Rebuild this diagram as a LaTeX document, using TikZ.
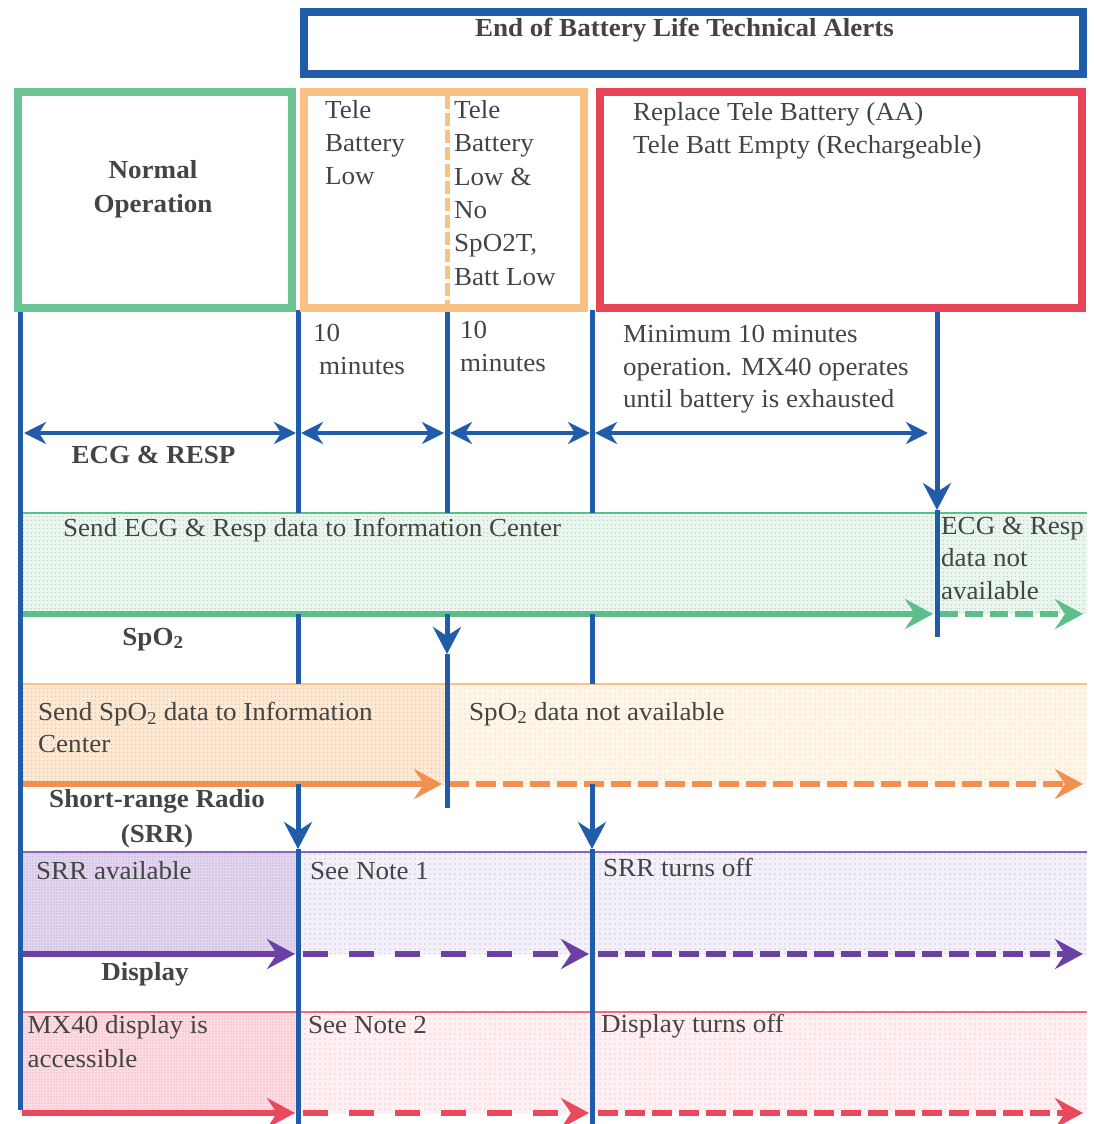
\documentclass[tikz,border=0pt]{standalone}
\usepackage{fontspec}
\setmainfont{Liberation Serif}[FakeStretch=1.04]
\usetikzlibrary{arrows.meta,patterns.meta}
\definecolor{cblue}{RGB}{32,92,170}
\definecolor{cgreenbox}{RGB}{108,196,150}
\definecolor{corangebox}{RGB}{250,192,132}
\definecolor{credbox}{RGB}{232,68,88}
\definecolor{cgreenarr}{RGB}{94,190,138}
\definecolor{corangearr}{RGB}{243,143,80}
\definecolor{cpurple}{RGB}{108,64,162}
\definecolor{cpinkarr}{RGB}{234,72,92}
\definecolor{ctext}{RGB}{68,68,68}
\definecolor{gfill}{RGB}{232,246,238}
\definecolor{ofillL}{RGB}{254,232,210}
\definecolor{ofillR}{RGB}{255,246,234}
\definecolor{pfillL}{RGB}{228,216,240}
\definecolor{pfillR}{RGB}{244,240,249}
\definecolor{rfillL}{RGB}{252,222,228}
\definecolor{rfillR}{RGB}{254,240,243}
\tikzset{
  bluehead/.tip={Stealth[length=27pt,width=28pt,inset=9pt]},
  dblhead/.tip={Stealth[length=22pt,width=22pt,inset=7pt]},
  bandhead/.tip={Stealth[length=28pt,width=30pt,inset=10pt]},
  txt/.style={text=ctext,font=\fontsize{26}{33.3}\selectfont,inner sep=0pt,align=left},
  btxt/.style={text=ctext,font=\fontsize{26}{34}\selectfont\bfseries,inner sep=0pt,align=center},
  framebox/.style={draw=#1,line width=8pt,fill=white,inner sep=0pt,minimum height=216pt},
  vline/.style={draw=cblue,line width=5pt},
  dblarrow/.style={draw=cblue,line width=4.5pt,dblhead-dblhead},
  bandarrow/.style={line width=6pt,-bandhead},
  dotsfine/.style={pattern={Dots[distance=4pt,radius=0.6pt]},pattern color=#1},
  bandedge/.style={line width=1.5pt,draw=#1},
}
\begin{document}
\begin{tikzpicture}[x=1pt,y=-1pt]
\useasboundingbox (0,0) rectangle (1093,1124);

% ---------- bands ----------
\fill[gfill] (20,513) rectangle (1087,614);
\fill[dotsfine=cgreenarr!75] (20,513) rectangle (1087,614);
\draw[bandedge=cgreenarr] (20,513) -- (1087,513);

\fill[ofillL] (20,684) rectangle (447,784);
\fill[dotsfine=corangearr!80] (20,684) rectangle (447,784);
\fill[ofillR] (447,684) rectangle (1087,784);
\fill[pattern={Dots[distance=5pt,radius=0.6pt]},pattern color=corangebox] (447,684) rectangle (1087,784);
\draw[bandedge=corangebox] (20,684) -- (1087,684);

\fill[pfillL] (20,852) rectangle (298,954);
\fill[pattern={Dots[distance=3pt,radius=0.6pt]},pattern color=cpurple!60] (20,852) rectangle (298,954);
\fill[pfillR] (298,852) rectangle (1087,954);
\fill[pattern={Dots[distance=5pt,radius=0.6pt]},pattern color=cpurple!55] (298,852) rectangle (1087,954);
\draw[bandedge=cpurple!80] (20,852) -- (1087,852);

\fill[rfillL] (20,1012) rectangle (298,1113);
\fill[pattern={Dots[distance=3pt,radius=0.6pt]},pattern color=cpinkarr!60] (20,1012) rectangle (298,1113);
\fill[rfillR] (298,1012) rectangle (1087,1113);
\fill[pattern={Dots[distance=5pt,radius=0.6pt]},pattern color=cpinkarr!55] (298,1012) rectangle (1087,1113);
\draw[bandedge=cpinkarr!80] (20,1012) -- (1087,1012);

% ---------- coordinates ----------
\coordinate (g0) at (22,614);   \coordinate (g1) at (933,614);
\coordinate (g2) at (940,614);  \coordinate (g3) at (1083,614);
\coordinate (o0) at (22,784);   \coordinate (o1) at (442,784);
\coordinate (o2) at (449,784);  \coordinate (o3) at (1083,784);
\coordinate (p0) at (22,954);   \coordinate (p1) at (295,954);
\coordinate (p2) at (303,954);  \coordinate (p3) at (589,954);
\coordinate (p4) at (598,954);  \coordinate (p5) at (1083,954);
\coordinate (r0) at (22,1113);  \coordinate (r1) at (295,1113);
\coordinate (r2) at (303,1113); \coordinate (r3) at (589,1113);
\coordinate (r4) at (598,1113); \coordinate (r5) at (1083,1113);

\coordinate (v0a) at (20,310);  \coordinate (v0b) at (20,1110);
\coordinate (v1a) at (298,310); \coordinate (v1b) at (298,513);
\coordinate (v1c) at (298,614); \coordinate (v1d) at (298,684);
\coordinate (v1e) at (298,784); \coordinate (v1f) at (298,849);
\coordinate (v1g) at (298,1124);
\coordinate (v2a) at (447,310); \coordinate (v2b) at (447,513);
\coordinate (v2c) at (447,614); \coordinate (v2d) at (447,654);
\coordinate (v2e) at (447,808);
\coordinate (v3a) at (592,310); \coordinate (v3b) at (592,513);
\coordinate (v3c) at (592,614); \coordinate (v3d) at (592,684);
\coordinate (v3e) at (592,784); \coordinate (v3f) at (592,849);
\coordinate (v3g) at (592,1124);
\coordinate (v4a) at (937,310); \coordinate (v4b) at (937,510);
\coordinate (v4c) at (937,637);

\coordinate (h0a) at (24,433);  \coordinate (h0b) at (296,433);
\coordinate (h1a) at (301,433); \coordinate (h1b) at (444,433);
\coordinate (h2a) at (450,433); \coordinate (h2b) at (590,433);
\coordinate (h3a) at (595,433); \coordinate (h3b) at (928,433);

% ---------- band arrows ----------
\draw[bandarrow,cgreenarr] (g0) -- (g1);
\draw[bandarrow,cgreenarr,dash pattern=on 18pt off 7pt] (g2) -- (g3);
\draw[bandarrow,corangearr] (o0) -- (o1);
\draw[bandarrow,corangearr,dash pattern=on 20pt off 7pt] (o2) -- (o3);
\draw[bandarrow,cpurple] (p0) -- (p1);
\draw[bandarrow,cpurple,dash pattern=on 25pt off 21pt] (p2) -- (p3);
\draw[bandarrow,cpurple,dash pattern=on 20pt off 7pt] (p4) -- (p5);
\draw[bandarrow,cpinkarr] (r0) -- (r1);
\draw[bandarrow,cpinkarr,dash pattern=on 25pt off 21pt] (r2) -- (r3);
\draw[bandarrow,cpinkarr,dash pattern=on 20pt off 7pt] (r4) -- (r5);

% ---------- vertical timeline lines ----------
\draw[vline] (v0a) -- (v0b);
\draw[vline] (v1a) -- (v1b);
\draw[vline] (v1c) -- (v1d);
\draw[vline,-bluehead] (v1e) -- (v1f);
\draw[vline] (v1f) -- (v1g);
\draw[vline] (v2a) -- (v2b);
\draw[vline,-bluehead] (v2c) -- (v2d);
\draw[vline] (v2d) -- (v2e);
\draw[vline] (v3a) -- (v3b);
\draw[vline] (v3c) -- (v3d);
\draw[vline,-bluehead] (v3e) -- (v3f);
\draw[vline] (v3f) -- (v3g);
\draw[vline,-bluehead] (v4a) -- (v4b);
\draw[vline] (v4b) -- (v4c);

% ---------- duration arrows ----------
\draw[dblarrow] (h0a) -- (h0b);
\draw[dblarrow] (h1a) -- (h1b);
\draw[dblarrow] (h2a) -- (h2b);
\draw[dblarrow] (h3a) -- (h3b);

% ---------- boxes ----------
\node[framebox=cblue,minimum width=779pt,minimum height=62pt] (alerts) at (693.5,43) {};
\node[framebox=cgreenbox,minimum width=274pt] (normal) at (155,200) {};
\node[framebox=corangebox,minimum width=280pt] (lowbox) at (444,200) {};
\node[framebox=credbox,minimum width=482pt] (emptybox) at (841,200) {};
\coordinate (divtop) at (447,96);
\coordinate (divbot) at (447,304);
\draw[corangebox,line width=5pt,dash pattern=on 13pt off 4pt] (divtop) -- (divbot);

% ---------- texts ----------
\node[btxt,anchor=base] (title) at (684.5,37) {End of Battery Life Technical Alerts};
\node[btxt,anchor=north] (normaltxt) at (153,160) {Normal\\Operation};
\node[txt,anchor=north west] (lowtxt) at (325,100) {Tele\\Battery\\Low};
\node[txt,anchor=north west,font=\fontsize{26}{33.4}\selectfont] (lowspotxt) at (454,100)
  {Tele\\Battery\\Low \&\\No\\SpO2T,\\Batt Low};
\node[txt,anchor=north west] (emptytxt) at (633,102)
  {Replace Tele Battery (AA)\\Tele Batt Empty (Rechargeable)};

\node[txt,anchor=north west] (t10a) at (313,324) {10\\\hspace*{6pt}minutes};
\node[txt,anchor=north west] (t10b) at (460,321) {10\\minutes};
\node[txt,anchor=north west,font=\fontsize{26}{32.7}\selectfont] (mintxt) at (623,325)
  {Minimum 10 minutes\\operation. MX40 operates\\until battery is exhausted};
\node[btxt,anchor=base] (ecgresp) at (153.5,463) {ECG \& RESP};

\node[txt,anchor=base west] (ecgsend) at (63,536) {Send ECG \& Resp data to Information Center};
\node[txt,anchor=north west,font=\fontsize{26}{32.5}\selectfont] (ecgna) at (941,517)
  {ECG \& Resp\\data not\\available};

\node[btxt,anchor=base] (spo2lbl) at (153,645) {SpO\textsubscript{2}};
\node[txt,anchor=north west,font=\fontsize{26}{32}\selectfont] (spo2send) at (38,702)
  {Send SpO\textsubscript{2} data to Information\\Center};
\node[txt,anchor=base west] (spo2na) at (469,720) {SpO\textsubscript{2} data not available};

\node[btxt,anchor=north,font=\fontsize{26}{35}\selectfont\bfseries] (srrlbl) at (157,789)
  {Short-range Radio\\(SRR)};
\node[txt,anchor=base west] (srrav) at (36,879) {SRR available};
\node[txt,anchor=base west] (note1) at (310,879) {See Note 1};
\node[txt,anchor=base west] (srroff) at (603,876) {SRR turns off};

\node[btxt,anchor=base] (displbl) at (145,980) {Display};
\node[txt,anchor=north west,font=\fontsize{26}{34}\selectfont] (dispacc) at (27.5,1015)
  {MX40 display is\\accessible};
\node[txt,anchor=base west] (note2) at (308,1033) {See Note 2};
\node[txt,anchor=base west] (dispoff) at (601,1032) {Display turns off};
\end{tikzpicture}
\end{document}
